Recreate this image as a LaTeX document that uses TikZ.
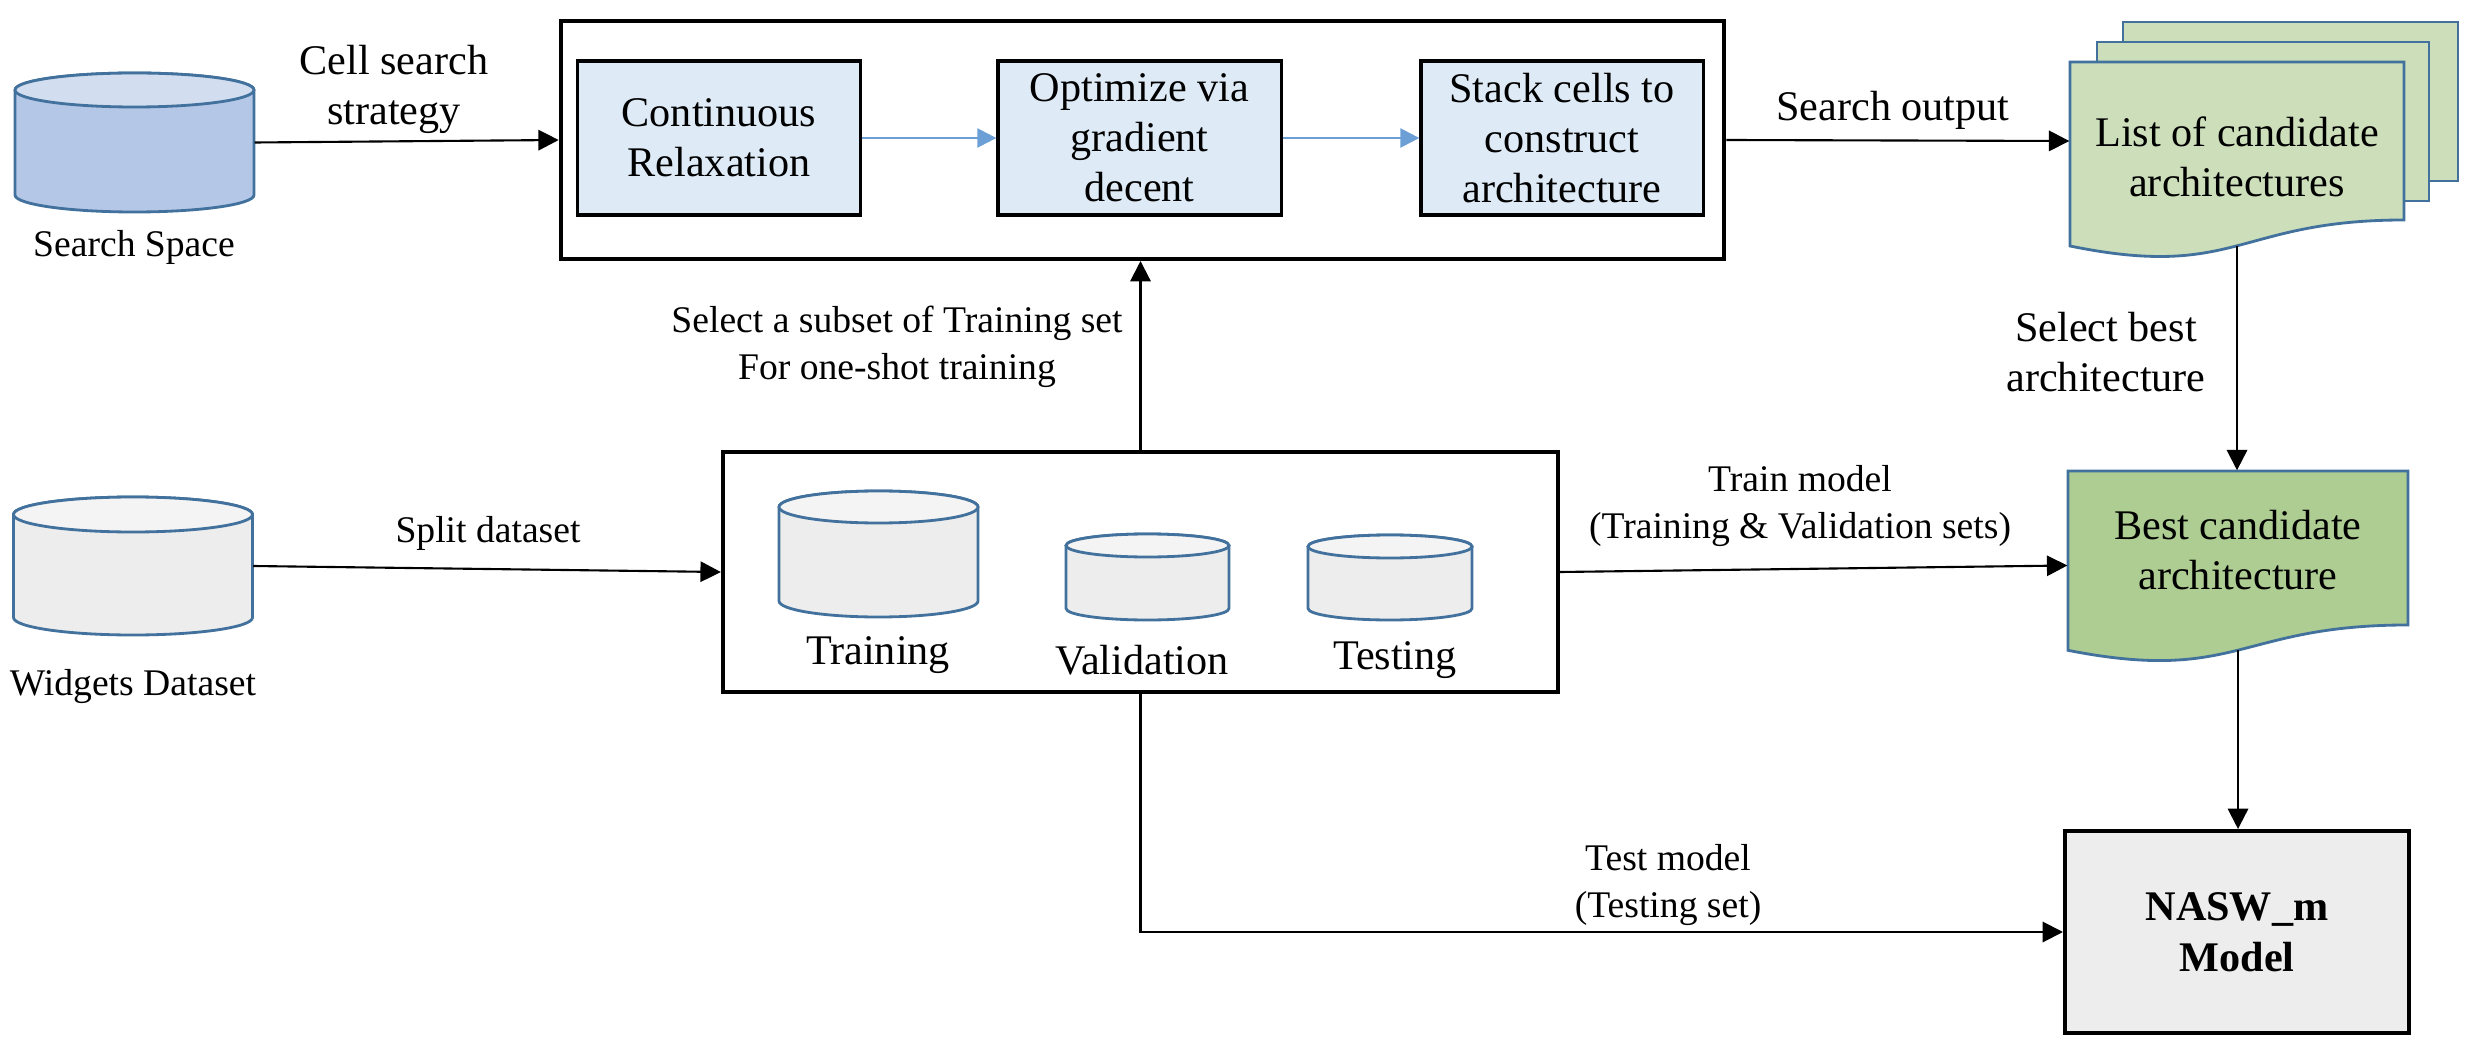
\documentclass[tikz,border=0pt]{standalone}
\usepackage{fontspec}
\setmainfont{Liberation Serif}
\usetikzlibrary{arrows.meta,fit}
\definecolor{cylb}{HTML}{41719C}
\definecolor{ssbody}{HTML}{B4C7E7}
\definecolor{sstop}{HTML}{D2DEEF}
\definecolor{gbody}{HTML}{EDEDED}
\definecolor{gtop}{HTML}{F4F4F4}
\definecolor{procfill}{HTML}{DEEBF7}
\definecolor{arrowblue}{HTML}{6C9FD6}
\definecolor{listfill}{HTML}{CCDFBA}
\definecolor{bestfill}{HTML}{AECD92}
\definecolor{modelfill}{HTML}{EDEDED}
\tikzset{
  conn/.style={line width=0.6pt, -{Triangle[length=5.8pt,width=5.8pt]}},
  plainconn/.style={line width=0.6pt},
  bconn/.style={line width=0.7pt, draw=arrowblue, -{Triangle[length=5.4pt,width=5.4pt,fill=arrowblue]}},
  procbox/.style={draw, line width=0.9pt, fill=procfill, align=center, inner sep=2pt,
    font=\fontsize{12}{14.2}\selectfont},
  bigbox/.style={draw, line width=1.1pt},
  lbl/.style={font=\fontsize{12}{14.2}\selectfont, align=center, inner sep=0pt},
  slbl/.style={font=\fontsize{10.7}{13.2}\selectfont, align=center, inner sep=0pt},
  shapeborder/.style={draw=cylb, line width=0.8pt}
}
% cylinder: name, cx, top, rx, height, ry, body colour, top colour
\newcommand\mycyl[8]{%
  \filldraw[fill=#7, shapeborder] (#2-#4,-#3-#6) -- ++(0,-#5+2*#6)
    arc[start angle=180,end angle=360,x radius=#4,y radius=#6] -- ++(0,#5-2*#6)
    arc[start angle=0,end angle=180,x radius=#4,y radius=#6] -- cycle;
  \filldraw[fill=#8, shapeborder] (#2,-#3-#6) ellipse[x radius=#4,y radius=#6];
  \node[inner sep=0pt, fit={(#2-#4,-#3) (#2+#4,-#3-#5)}] (#1) {};
}
% document: x1, x2, top, height, fill
\newcommand\mydoc[5]{%
  \filldraw[fill=#5, shapeborder] (#1,-#3) -- (#2,-#3) -- (#2,-#3-0.802*#4)
    .. controls ({(#1+#2)/2},-#3-0.802*#4) and ({(#1+#2)/2},-#3-1.1075*#4) ..
    (#1,-#3-0.934*#4) -- cycle;
}
\begin{document}
\begin{tikzpicture}[x=0.01cm,y=0.01cm]
\useasboundingbox (0,0) rectangle (2476,-1052);

% ---------- left cylinders ----------
\mycyl{ss}{134.5}{73}{119.5}{139}{17}{ssbody}{sstop}
\node[slbl] (sslbl) at (134,-247) {Search Space};
\mycyl{wd}{133}{497}{119.5}{138}{17.5}{gbody}{gtop}
\node[slbl] (wdlbl) at (133,-687) {Widgets Dataset};

% ---------- top search box ----------
\node[bigbox, minimum width=11.63cm, minimum height=2.38cm] (outer) at (1142.5,-140) {};
\node[procbox, minimum width=2.83cm, minimum height=1.54cm] (b1) at (719,-138) {Continuous\\Relaxation};
\node[procbox, minimum width=2.83cm, minimum height=1.54cm] (b2) at (1139.5,-138) {Optimize via\\gradient\\decent};
\node[procbox, minimum width=2.82cm, minimum height=1.54cm] (b3) at (1562,-138) {Stack cells to\\construct\\architecture};
\draw[bconn] (b1.east) -- (b2.west);
\draw[bconn] (b2.east) -- (b3.west);

% ---------- bottom split box ----------
\node[bigbox, minimum width=8.35cm, minimum height=2.4cm] (bot) at (1140.5,-572) {};
\mycyl{tr}{878.5}{491}{99.5}{126}{16}{gbody}{gtop}
\mycyl{va}{1147.5}{534}{81.5}{86}{11.5}{gbody}{gtop}
\mycyl{te}{1390}{535}{82}{85}{11.5}{gbody}{gtop}
\node[lbl] (trlbl) at (878,-655) {Training};
\node[lbl] (valbl) at (1142,-660) {Validation};
\node[lbl] (telbl) at (1395,-660) {Testing};

% ---------- candidate list (stacked documents) ----------
\filldraw[fill=listfill, shapeborder] (2123,-22) rectangle (2458,-181);
\filldraw[fill=listfill, shapeborder] (2097,-42) rectangle (2429,-201);
\mydoc{2070}{2404}{62}{197}{listfill}
\node[inner sep=0pt, fit={(2070,-62) (2404,-220)}] (list) {};
\node[lbl] (listtxt) at (2237,-157) {List of candidate\\architectures};
\coordinate (listb) at (2237,-246);

% ---------- best candidate ----------
\mydoc{2068}{2408}{471}{192}{bestfill}
\node[inner sep=0pt, fit={(2068,-471) (2408,-660)}] (best) {};
\node[lbl] (besttxt) at (2238,-550) {Best candidate\\architecture};
\coordinate (bestb) at (2238,-650);

% ---------- final model ----------
\node[bigbox, fill=modelfill, minimum width=3.44cm, minimum height=2.02cm, align=center,
  font=\fontsize{12}{14.5}\selectfont\bfseries] (nasw) at (2237,-932) {NASW\_m\\Model};

% ---------- connectors ----------
\draw[conn] (ss.east) -- (outer.west);
\node[lbl] (cslbl) at (394,-89) {Cell search\\strategy};
\draw[conn] (outer.east) -- (list.west);
\node[lbl] (solbl) at (1893,-110) {Search output};
\draw[conn] (listb) -- (listb |- best.north);
\node[lbl] (sblbl) at (2106,-352) {Select best\\architecture};
\draw[conn] (wd.east) -- (bot.west);
\node[slbl] (splbl) at (488,-533) {Split dataset};
\draw[conn] (bot.north) -- (bot.north |- outer.south);
\node[slbl] (subl) at (897,-347) {Select a subset of Training set\\For one-shot training};
\draw[conn] (bot.east) -- (best.west);
\node[slbl] (tmlbl) at (1800,-506) {Train model\\(Training \& Validation sets)};
\draw[conn] (bestb) -- (bestb |- nasw.north);
\draw[conn] (bot.south) -- (bot.south |- nasw.west) -- (nasw.west);
\node[slbl] (telbl2) at (1668,-885) {Test model\\(Testing set)};
\end{tikzpicture}
\end{document}
